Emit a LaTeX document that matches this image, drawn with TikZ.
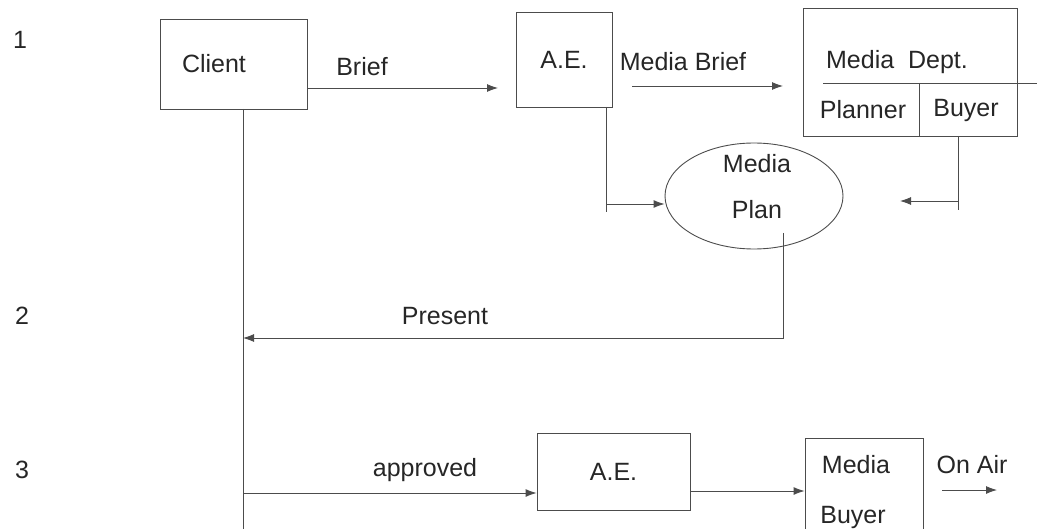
\documentclass[tikz,border=0pt]{standalone}
\usepackage{fontspec}
\setmainfont{Liberation Sans}
\usetikzlibrary{arrows.meta,shapes.geometric}
\begin{document}
\begin{tikzpicture}[x=1pt,y=-1pt,
  every node/.style={font=\fontsize{25}{30}\selectfont, text=black!85},
  ln/.style={draw=black!70, line width=0.9pt},
  arr/.style={ln, -{Latex[length=11pt,width=8pt]}},
  box/.style={ln, rectangle, inner sep=0pt},
  txt/.style={inner sep=0pt, anchor=center}
]
\useasboundingbox (0,0) rectangle (1043,529);

% row numbers
\node[txt] (n1) at (20,40) {1};
\node[txt] (n2) at (22,316) {2};
\node[txt] (n3) at (22,470) {3};

% boxes
\node[box, minimum width=147pt, minimum height=90pt, text width=103pt, inner xsep=22pt, align=left] (client) at (233.5,64) {Client};
\node[box, minimum width=96pt, minimum height=95pt] (ae1) at (564,59.5) {A.E.};
\node[box, minimum width=214pt, minimum height=128pt] (md) at (910,72) {};
\node[txt] (mdt) at (897,62) {Media\ \ Dept.};
\node[txt] (planner) at (863,110) {Planner};
\node[txt] (buyer) at (966,110) {Buyer};
\node[ln, ellipse, minimum width=178pt, minimum height=106pt, inner sep=0pt] (plan) at (754,196) {};
\node[txt] (planA) at (757,164) {Media};
\node[txt] (planB) at (757,210) {Plan};
\node[box, minimum width=153pt, minimum height=77pt] (ae2) at (613.5,471.5) {A.E.};
\node[box, minimum width=118pt, minimum height=130pt] (mb) at (864,503) {};
\node[txt] (mbA) at (856,465) {Media};
\node[txt] (mbB) at (853,517) {Buyer};

% labels
\node[txt] (brief) at (362,67) {Brief};
\node[txt] (mbrief) at (683,62) {Media Brief};
\node[txt] (present) at (445,316) {Present};
\node[txt] (approved) at (425,470) {approved};
\node[txt] (onair) at (972,465) {On Air};

% Media Dept dividers
\coordinate (dL) at (823,83);
\coordinate (dR) at (1037,83);
\coordinate (dV) at (919,83);
\draw[ln] (dL) -- (dR);
\draw[ln] (dV) -- (dV |- md.south);

% connectors
\coordinate (c1) at (307,88);
\draw[arr] (c1) -- (498,88) coordinate (c1e);

\coordinate (m1) at (632,86);
\coordinate (m2) at (783,86);
\draw[arr] (m1) -- (m2);

\coordinate (aeS) at (606,107);
\coordinate (aeE) at (606,212);
\coordinate (aeK) at (606,204);
\draw[ln] (aeS) -- (aeE);
\draw[arr] (aeK) -- (plan.west |- aeK) ;

\coordinate (bS) at (958,136);
\coordinate (bE) at (958,210);
\coordinate (bK) at (958,201);
\coordinate (bT) at (900,201);
\draw[ln] (bS) -- (bE);
\draw[arr] (bK) -- (bT);

\coordinate (pS) at (783,233);
\coordinate (pC) at (783,338);
\coordinate (cl) at (243,338);
\draw[arr] (pS) -- (pC) -- (cl);

\coordinate (clS) at (243,109);
\coordinate (clE) at (243,529);
\draw[ln] (clS) -- (clE);

\coordinate (apS) at (243,493);
\draw[arr] (apS) -- (apS -| ae2.west);

\coordinate (a2) at (690,491);
\draw[arr] (a2) -- (a2 -| mb.west);

\coordinate (oS) at (942,490);
\coordinate (oE) at (997,490);
\draw[arr] (oS) -- (oE);
\end{tikzpicture}
\end{document}
